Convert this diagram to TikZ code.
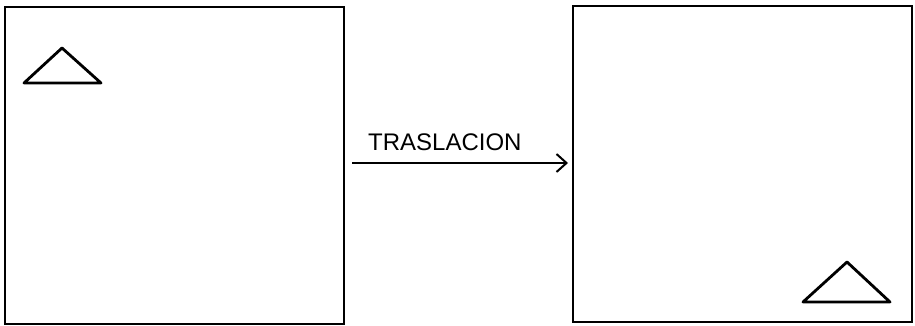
\documentclass[tikz,border=0pt]{standalone}
\usepackage{fontspec}
\setmainfont{Liberation Sans}
\usetikzlibrary{arrows.meta}
\begin{document}
\begin{tikzpicture}[x=1pt,y=-1pt,
  frame/.style={draw=black,line width=2.4pt,line join=miter},
  tri/.style={draw=black,line width=2.8pt,line join=round},
  conn/.style={draw=black,line width=1.8pt,-{Straight Barb[length=10pt,width=18pt,line width=2pt]}},
  lbl/.style={font=\fontsize{24}{26}\selectfont,anchor=base west,inner sep=0pt}]
\useasboundingbox (0,0) rectangle (915,326);
\fill[white] (0,0) rectangle (915,326);
\draw[frame] (5,7) rectangle (344,324);
\draw[frame] (573,6) rectangle (912,322);
\draw[tri] (62,48) -- (101,83) -- (24,83) -- cycle;
\draw[tri] (847,262) -- (890,302) -- (803,302) -- cycle;
\coordinate (s) at (352,163);
\coordinate (e) at (568,163);
\draw[conn] (s) -- (e);
\node[lbl] (t) at (368,150) {TRASLACION};
\end{tikzpicture}
\end{document}
